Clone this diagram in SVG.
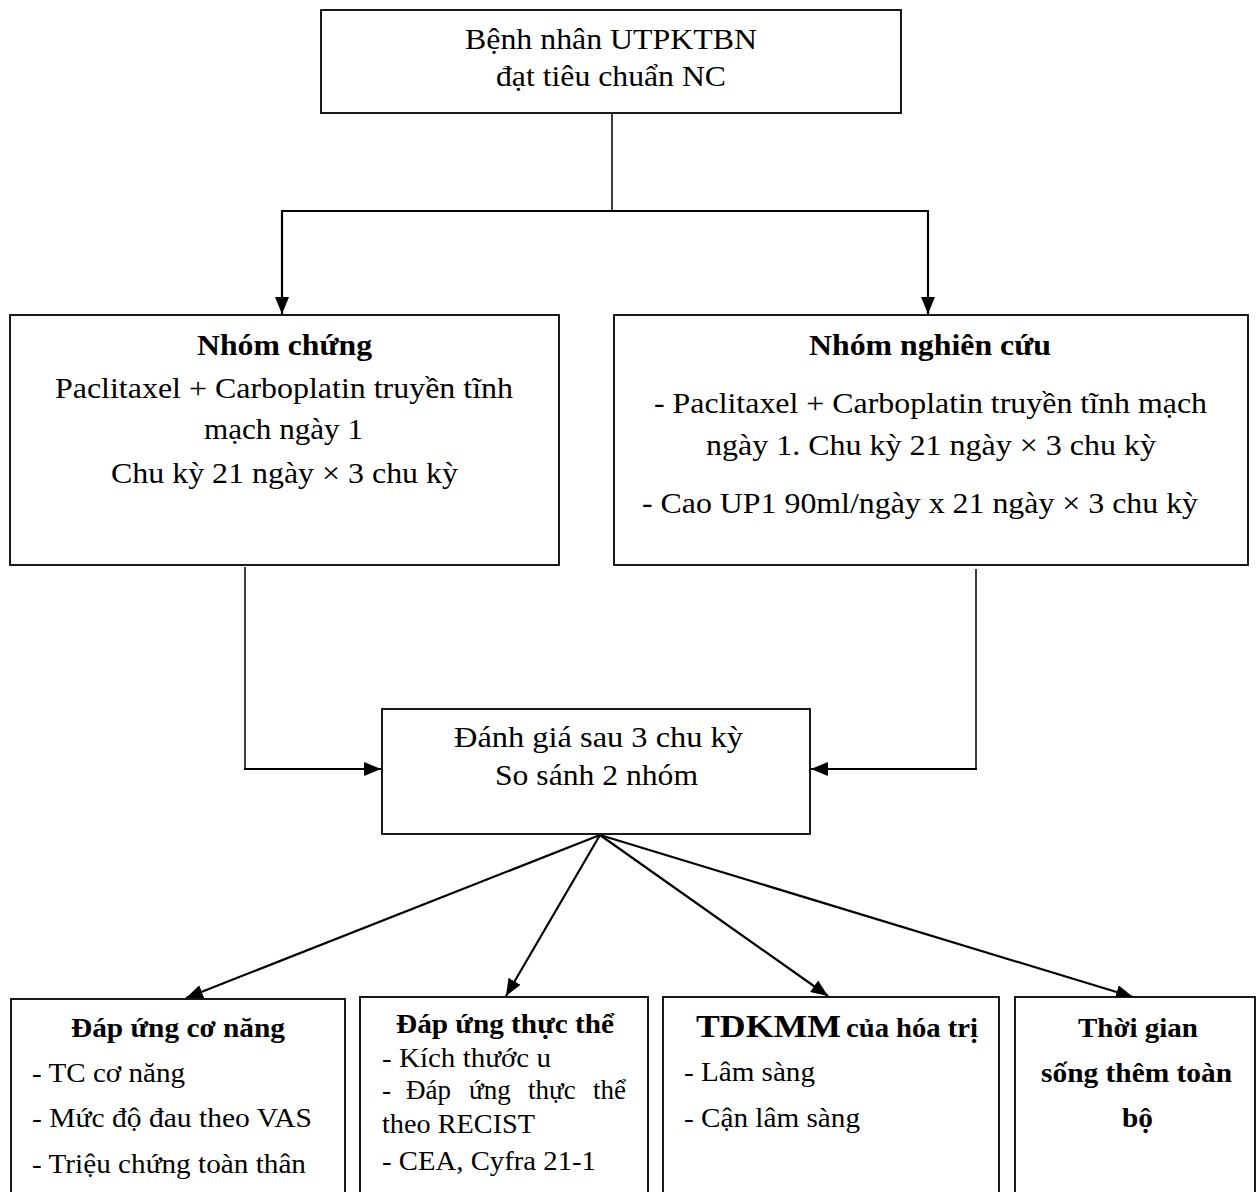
<svg xmlns="http://www.w3.org/2000/svg" width="1260" height="1192" viewBox="0 0 1260 1192">
<style>
.box{fill:#fff;stroke:#000;stroke-width:1.8}
.t{font-family:"Liberation Serif","Times New Roman",serif;font-size:29px;fill:#000}
.s{font-family:"Liberation Serif","Times New Roman",serif;font-size:27px;fill:#000}
.b{font-weight:bold}
.c{fill:none;stroke:#000;stroke-width:2.2}
.thin{stroke-width:1.5}
</style>
<defs>
<marker id="ah" viewBox="0 0 17 14" refX="17" refY="7" markerWidth="17" markerHeight="14" orient="auto" markerUnits="userSpaceOnUse">
<path d="M0,0 L17,7 L0,14 z" fill="#000"/>
</marker>
</defs>
<rect width="1260" height="1192" fill="#fff"/>
<g id="connectors">
<line class="c thin" x1="612" y1="113" x2="612" y2="211"/>
<line class="c" x1="281" y1="211" x2="929" y2="211"/>
<line class="c" x1="282" y1="211" x2="282" y2="314" marker-end="url(#ah)"/>
<line class="c" x1="928" y1="211" x2="928" y2="314" marker-end="url(#ah)"/>
<polyline class="c thin" points="245,567 245,769"/>
<line class="c" x1="244" y1="769" x2="381" y2="769" marker-end="url(#ah)"/>
<polyline class="c thin" points="976,569 976,769"/>
<line class="c" x1="977" y1="769" x2="811" y2="769" marker-end="url(#ah)"/>
<line class="c" x1="600" y1="835" x2="186" y2="998" marker-end="url(#ah)"/>
<line class="c" x1="600" y1="835" x2="506" y2="996" marker-end="url(#ah)"/>
<line class="c" x1="600" y1="835" x2="828" y2="996" marker-end="url(#ah)"/>
<line class="c" x1="600" y1="835" x2="1133" y2="997" marker-end="url(#ah)"/>
</g>
<g id="start">
<rect class="box" x="321" y="10" width="580" height="103"/>
<text class="t" x="465" y="49" textLength="292" lengthAdjust="spacingAndGlyphs">Bệnh nhân UTPKTBN</text>
<text class="t" x="496" y="86" textLength="230" lengthAdjust="spacingAndGlyphs">đạt tiêu chuẩn NC</text>
</g>
<g id="control">
<rect class="box" x="10" y="315" width="549" height="250"/>
<text class="t b" x="197" y="355" textLength="175" lengthAdjust="spacingAndGlyphs">Nhóm chứng</text>
<text class="t" x="55" y="398" textLength="458" lengthAdjust="spacingAndGlyphs">Paclitaxel + Carboplatin truyền tĩnh</text>
<text class="t" x="204" y="439" textLength="159" lengthAdjust="spacingAndGlyphs">mạch ngày 1</text>
<text class="t" x="111" y="483" textLength="347" lengthAdjust="spacingAndGlyphs">Chu kỳ 21 ngày × 3 chu kỳ</text>
</g>
<g id="study">
<rect class="box" x="614" y="315" width="634" height="250"/>
<text class="t b" x="809" y="355" textLength="242" lengthAdjust="spacingAndGlyphs">Nhóm nghiên cứu</text>
<text class="t" x="654" y="413" textLength="553" lengthAdjust="spacingAndGlyphs">- Paclitaxel + Carboplatin truyền tĩnh mạch</text>
<text class="t" x="706" y="455" textLength="450" lengthAdjust="spacingAndGlyphs">ngày 1. Chu kỳ 21 ngày × 3 chu kỳ</text>
<text class="t" x="642" y="513" textLength="556" lengthAdjust="spacingAndGlyphs">- Cao UP1 90ml/ngày x 21 ngày × 3 chu kỳ</text>
</g>
<g id="evaluate">
<rect class="box" x="382" y="709" width="428" height="125"/>
<text class="t" x="454" y="747" textLength="289" lengthAdjust="spacingAndGlyphs">Đánh giá sau 3 chu kỳ</text>
<text class="t" x="495" y="785" textLength="203" lengthAdjust="spacingAndGlyphs">So sánh 2 nhóm</text>
</g>
<g id="functional">
<rect class="box" x="11" y="999" width="334" height="220"/>
<text class="s b" x="71" y="1037" textLength="214" lengthAdjust="spacingAndGlyphs">Đáp ứng cơ năng</text>
<text class="s" x="32" y="1082" textLength="153" lengthAdjust="spacingAndGlyphs">- TC cơ năng</text>
<text class="s" x="32" y="1127" textLength="280" lengthAdjust="spacingAndGlyphs">- Mức độ đau theo VAS</text>
<text class="s" x="32" y="1173" textLength="274" lengthAdjust="spacingAndGlyphs">- Triệu chứng toàn thân</text>
</g>
<g id="physical">
<rect class="box" x="360" y="997" width="288" height="220"/>
<text class="s b" x="396" y="1033" textLength="218" lengthAdjust="spacingAndGlyphs">Đáp ứng thực thể</text>
<text class="s" x="382" y="1067" textLength="169" lengthAdjust="spacingAndGlyphs">- Kích thước u</text>
<text class="s" y="1099"><tspan x="382">-</tspan><tspan x="406">Đáp</tspan><tspan x="469">ứng</tspan><tspan x="528">thực</tspan><tspan x="593">thể</tspan></text>
<text class="s" x="382" y="1133" textLength="153" lengthAdjust="spacingAndGlyphs">theo RECIST</text>
<text class="s" x="382" y="1170" textLength="214" lengthAdjust="spacingAndGlyphs">- CEA, Cyfra 21-1</text>
</g>
<g id="toxicity">
<rect class="box" x="663" y="997" width="336" height="220"/>
<text class="s b" x="696" y="1037"><tspan font-size="32" textLength="145" lengthAdjust="spacingAndGlyphs">TDKMM</tspan><tspan x="846" textLength="132" lengthAdjust="spacingAndGlyphs">của hóa trị</tspan></text>
<text class="s" x="684" y="1081" textLength="131" lengthAdjust="spacingAndGlyphs">- Lâm sàng</text>
<text class="s" x="684" y="1127" textLength="176" lengthAdjust="spacingAndGlyphs">- Cận lâm sàng</text>
</g>
<g id="survival">
<rect class="box" x="1015" y="997" width="240" height="220"/>
<text class="s b" x="1078" y="1037" textLength="120" lengthAdjust="spacingAndGlyphs">Thời gian</text>
<text class="s b" x="1041" y="1082" textLength="191" lengthAdjust="spacingAndGlyphs">sống thêm toàn</text>
<text class="s b" x="1122" y="1127" textLength="31" lengthAdjust="spacingAndGlyphs">bộ</text>
</g>
</svg>
